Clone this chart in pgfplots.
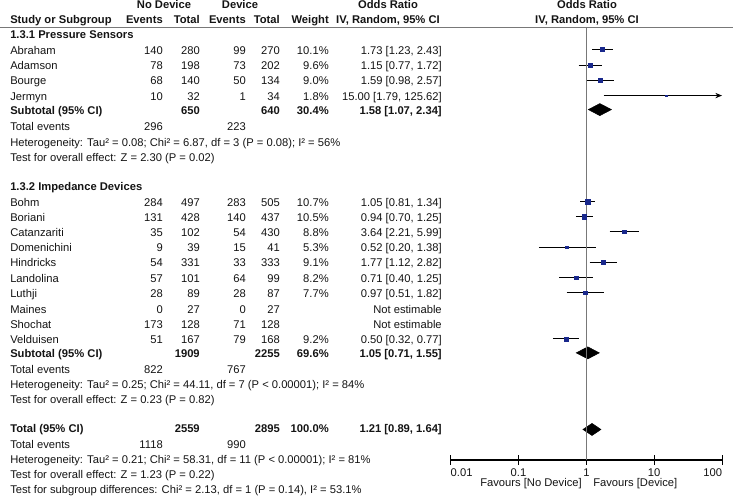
\documentclass[border=0pt]{standalone}
\usepackage{fontspec}
\setmainfont{Liberation Sans}
\usepackage{pgfplots}
\pgfplotsset{compat=1.18}
\usetikzlibrary{arrows.meta}
\definecolor{sqblue}{RGB}{25,40,140}
\definecolor{txt}{RGB}{20,20,20}
\definecolor{midgray}{RGB}{120,120,120}
\newcommand{\study}[5]{%
  \addplot[black, line width=0.7pt, forget plot] coordinates {(#3,-#1) (#4,-#1)};
  \addplot[only marks, mark=square*, color=sqblue, mark size=#5, forget plot] coordinates {(#2,-#1)};
}
\newcommand{\diam}[4]{%
  \addplot[fill=black, draw=black, forget plot] coordinates {(#3,-#1) (#2,-#1+6) (#4,-#1) (#2,-#1-6)} -- cycle;
}
\newcommand{\fs}{\fontsize{8.4}{10}\selectfont}
\begin{document}
\begin{tikzpicture}[x=0.75pt, y=-0.75pt,
  tx/.style={inner sep=0pt, text height=6pt, text depth=0pt, font=\fs, text=txt},
  L/.style={tx, anchor=west},
  R/.style={tx, anchor=east},
  C/.style={tx, anchor=center},
  B/.style={font=\fs\bfseries}]
\useasboundingbox (0,0) rectangle (733,498);
\coordinate (axorig) at (450.7,460);
% header
\node[C,B] at (164,5) {No Device};
\node[C,B] at (240,5) {Device};
\node[C,B] at (388,5) {Odds Ratio};
\node[C,B] at (587,5) {Odds Ratio};
\node[L,B] at (10,20) {Study or Subgroup};
\node[R,B] at (163,20) {Events};
\node[R,B] at (200,20) {Total};
\node[R,B] at (246,20) {Events};
\node[R,B] at (280,20) {Total};
\node[R,B] at (329,20) {Weight};
\node[C,B] at (388,20) {IV, Random, 95\% CI};
\node[C,B] at (587,20) {IV, Random, 95\% CI};
\draw[midgray, line width=0.9pt] (0,27.5) -- (733,27.5);

% rows
\newcommand{\row}[8]{%
  \node[L] at (10,#1) {#2};
  \node[R] at (163,#1) {#3};
  \node[R] at (200,#1) {#4};
  \node[R] at (246,#1) {#5};
  \node[R] at (280,#1) {#6};
  \node[R] at (329,#1) {#7};
  \node[R] at (442,#1) {#8};
}
\node[L,B] at (10,35) {1.3.1 Pressure Sensors};
\row{51}{Abraham}{140}{280}{99}{270}{10.1\%}{1.73 [1.23, 2.43]}
\row{66}{Adamson}{78}{198}{73}{202}{9.6\%}{1.15 [0.77, 1.72]}
\row{81}{Bourge}{68}{140}{50}{134}{9.0\%}{1.59 [0.98, 2.57]}
\row{97}{Jermyn}{10}{32}{1}{34}{1.8\%}{15.00 [1.79, 125.62]}
\node[L,B] at (10,111) {Subtotal (95\% CI)};
\node[R,B] at (200,111) {650};
\node[R,B] at (280,111) {640};
\node[R,B] at (329,111) {30.4\%};
\node[R,B] at (442,111) {1.58 [1.07, 2.34]};
\node[L] at (10,127) {Total events};
\node[R] at (163,127) {296};
\node[R] at (246,127) {223};
\node[L] at (10,143) {Heterogeneity: Tau² = 0.08; Chi² = 6.87, df = 3 (P = 0.08); I² = 56\%};
\node[L] at (10,158) {Test for overall effect: Z = 2.30 (P = 0.02)};

\node[L,B] at (10,187) {1.3.2 Impedance Devices};
\row{203}{Bohm}{284}{497}{283}{505}{10.7\%}{1.05 [0.81, 1.34]}
\row{218}{Boriani}{131}{428}{140}{437}{10.5\%}{0.94 [0.70, 1.25]}
\row{233}{Catanzariti}{35}{102}{54}{430}{8.8\%}{3.64 [2.21, 5.99]}
\row{248}{Domenichini}{9}{39}{15}{41}{5.3\%}{0.52 [0.20, 1.38]}
\row{263}{Hindricks}{54}{331}{33}{333}{9.1\%}{1.77 [1.12, 2.82]}
\row{279}{Landolina}{57}{101}{64}{99}{8.2\%}{0.71 [0.40, 1.25]}
\row{294}{Luthji}{28}{89}{28}{87}{7.7\%}{0.97 [0.51, 1.82]}
\row{310}{Maines}{0}{27}{0}{27}{}{Not estimable}
\row{325}{Shochat}{173}{128}{71}{128}{}{Not estimable}
\row{340}{Velduisen}{51}{167}{79}{168}{9.2\%}{0.50 [0.32, 0.77]}
\node[L,B] at (10,354) {Subtotal (95\% CI)};
\node[R,B] at (200,354) {1909};
\node[R,B] at (280,354) {2255};
\node[R,B] at (329,354) {69.6\%};
\node[R,B] at (442,354) {1.05 [0.71, 1.55]};
\node[L] at (10,370) {Total events};
\node[R] at (163,370) {822};
\node[R] at (246,370) {767};
\node[L] at (10,385) {Heterogeneity: Tau² = 0.25; Chi² = 44.11, df = 7 (P < 0.00001); I² = 84\%};
\node[L] at (10,400) {Test for overall effect: Z = 0.23 (P = 0.82)};

\node[L,B] at (10,429) {Total (95\% CI)};
\node[R,B] at (200,429) {2559};
\node[R,B] at (280,429) {2895};
\node[R,B] at (329,429) {100.0\%};
\node[R,B] at (442,429) {1.21 [0.89, 1.64]};
\node[L] at (10,445) {Total events};
\node[R] at (163,445) {1118};
\node[R] at (246,445) {990};
\node[L] at (10,460) {Heterogeneity: Tau² = 0.21; Chi² = 58.31, df = 11 (P < 0.00001); I² = 81\%};
\node[L] at (10,475) {Test for overall effect: Z = 1.23 (P = 0.22)};
\node[L] at (10,490) {Test for subgroup differences: Chi² = 2.13, df = 1 (P = 0.14), I² = 53.1\%};

\node[R] at (582,483) {Favours [No Device]};
\node[L] at (593,483) {Favours [Device]};

\begin{axis}[at={(axorig)}, anchor=south west, scale only axis,
  width=203.5pt, height=324.75pt,
  xmode=log, xmin=0.01, xmax=100, ymin=-460, ymax=-27.5,
  axis x line=bottom, axis y line=none,
  x axis line style={-, black, line width=0.8pt},
  xtick={0.01,0.1,1,10,100},
  xticklabels={\makebox[0pt][l]{0.01},0.1,1,10,\makebox[0pt][r]{100}},
  xtick align=center, major tick length=7.5pt,
  minor tick num=0, minor x tick style={draw=none},
  every tick/.style={black, line width=0.8pt},
  x tick label style={font=\fs, text=txt, inner sep=1pt, yshift=-1.5pt},
  clip=false]
\study{50}{1.73}{1.23}{2.43}{1.6}
\study{65.5}{1.15}{0.77}{1.72}{1.5}
\study{80.5}{1.59}{0.98}{2.57}{1.4}
\addplot[black, line width=0.7pt, -{Stealth[length=5pt,width=4pt]}, forget plot] coordinates {(1.79,-96) (100,-96)};
\addplot[only marks, mark=square*, color=sqblue, mark size=0.6, forget plot] coordinates {(15.00,-96)};
\diam{110}{1.58}{1.07}{2.34}
\study{202}{1.05}{0.81}{1.34}{1.65}
\study{217}{0.94}{0.70}{1.25}{1.6}
\study{232}{3.64}{2.21}{5.99}{1.45}
\study{247.5}{0.52}{0.20}{1.38}{1.1}
\study{262.5}{1.77}{1.12}{2.82}{1.5}
\study{278}{0.71}{0.40}{1.25}{1.35}
\study{293}{0.97}{0.51}{1.82}{1.3}
\study{339}{0.50}{0.32}{0.77}{1.5}
\diam{353}{1.05}{0.71}{1.55}
\diam{429.5}{1.21}{0.89}{1.64}
\addplot[draw=midgray, line width=1.1pt, mark=none, forget plot] coordinates {(1,-27.5) (1,-460)};
\end{axis}
\end{tikzpicture}
\end{document}
